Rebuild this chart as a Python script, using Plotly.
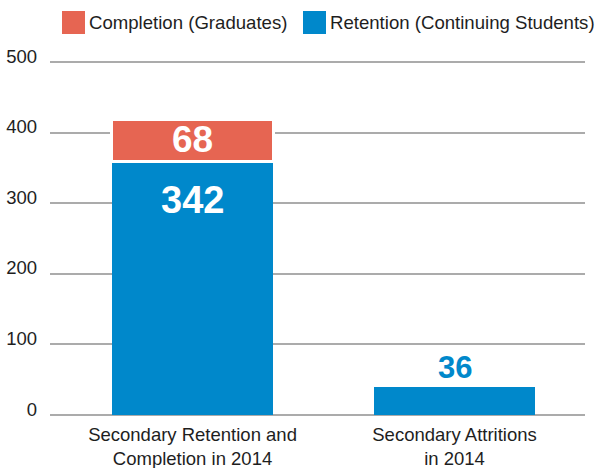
import plotly.graph_objects as go

categories = ["Secondary Retention and<br>Completion in 2014", "Secondary Attritions<br>in 2014"]
retention_heights = [359, 42]
completion_heights = [60, 0]
retention_labels = ["342", "36"]
completion_labels = ["68", ""]
y_ticks = [0, 100, 200, 300, 400, 500]
legend_names = ["Completion (Graduates)", "Retention (Continuing Students)"]

RED = "#E66552"
BLUE = "#0088CB"
FONT = "Liberation Sans, Arial, Helvetica, sans-serif"
TEXT = "#1E1E1E"

W, H = 598, 468
ML, MR, MT, MB = 50, 13, 60, 53
PW, PH = W - ML - MR, H - MT - MB


def px(x):
    return (x - ML) / PW


def py(y):
    return (H - MB - y) / PH


fig = go.Figure()
fig.add_trace(go.Bar(
    x=categories, y=retention_heights, name=legend_names[1],
    marker=dict(color=BLUE, line=dict(width=0)), width=0.615,
    hoverinfo="skip", showlegend=False,
))
fig.add_trace(go.Bar(
    x=categories, y=completion_heights, name=legend_names[0],
    marker=dict(color=RED, line=dict(color="white", width=3)), width=0.615,
    hoverinfo="skip", showlegend=False,
))

# value labels
fig.add_annotation(x=categories[0], y=retention_heights[0] - 54, text="<b>%s</b>" % retention_labels[0],
                   showarrow=False, font=dict(family=FONT, size=38, color="white"))
fig.add_annotation(x=categories[0], y=retention_heights[0] + completion_heights[0] / 2 + 1,
                   text="<b>%s</b>" % completion_labels[0],
                   showarrow=False, font=dict(family=FONT, size=37, color="white"))
fig.add_annotation(x=categories[1], y=retention_heights[1], yanchor="bottom", yshift=-2,
                   text="<b>%s</b>" % retention_labels[1],
                   showarrow=False, font=dict(family=FONT, size=31, color=BLUE))

# manual legend
legend_items = [(62, 87, RED, legend_names[0]), (303, 328, BLUE, legend_names[1])]
for sx, tx, col, name in legend_items:
    fig.add_shape(type="rect", xref="paper", yref="paper",
                  x0=px(sx), x1=px(sx + 23), y0=py(34), y1=py(11),
                  fillcolor=col, line=dict(width=0))
    fig.add_annotation(xref="paper", yref="paper", x=px(tx), y=py(23), xanchor="left",
                       yanchor="middle", text=name, showarrow=False,
                       font=dict(family=FONT, size=18.6, color=TEXT))

fig.update_layout(
    barmode="stack",
    width=W, height=H,
    margin=dict(l=ML, r=MR, t=MT, b=MB),
    paper_bgcolor="white", plot_bgcolor="white",
    font=dict(family=FONT, size=18, color=TEXT),
    showlegend=False,
    xaxis=dict(range=[-0.544, 1.498], showgrid=False, zeroline=False, showline=False,
               tickfont=dict(size=18.5, color=TEXT), ticks="", automargin=False,
               ticklabelstandoff=6),
    yaxis=dict(range=[0, 503], tickvals=y_ticks, showgrid=True, gridcolor="#ABABAB",
               gridwidth=1.5, zeroline=True, zerolinecolor="#ABABAB", zerolinewidth=1.5,
               ticklabelposition="outside top", tickfont=dict(size=18.5, color=TEXT),
               ticks="", ticklabelstandoff=12, ticklabelshift=7, automargin=False),
)
fig.write_html("out.html", config={"displayModeBar": False},
               post_script="document.body.style.margin='0';")
